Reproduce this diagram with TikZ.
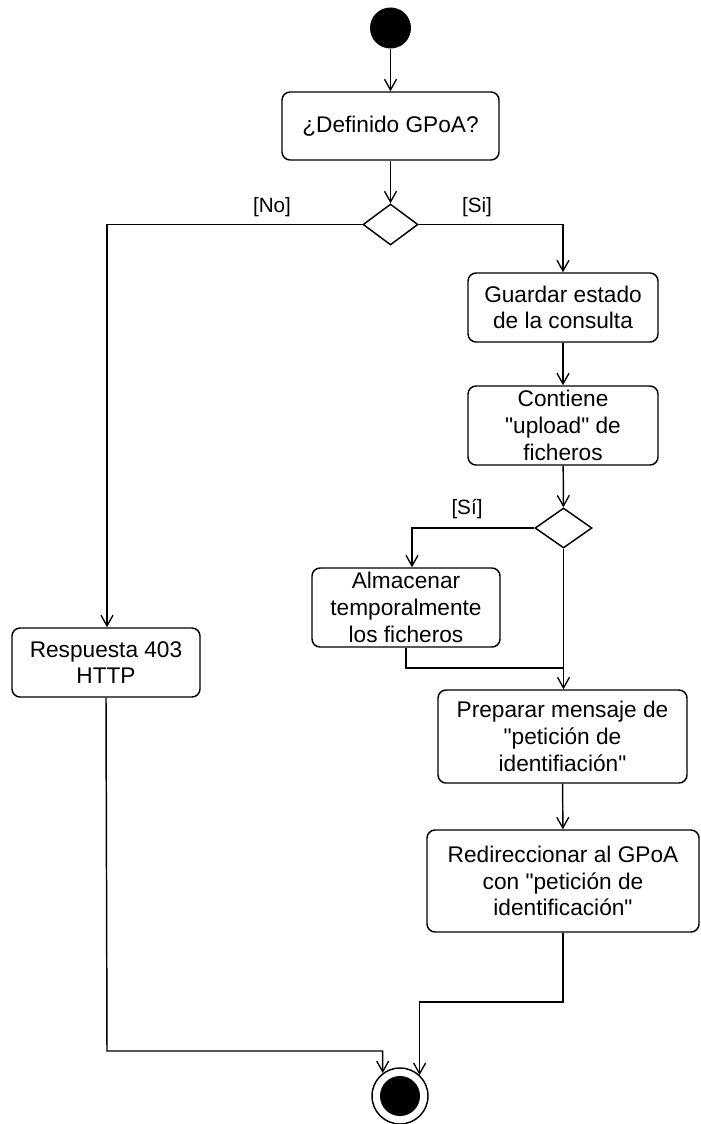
\documentclass[tikz,border=0pt]{standalone}
\usepackage{fontspec}
\setmainfont{Liberation Sans}[Ligatures=TeXOff]
\usetikzlibrary{arrows.meta,shapes.geometric}

% straight double quote
\newcommand{\sq}{{\char34}}

\tikzset{
  every picture/.style={x=0.75pt,y=-0.75pt},
  line/.style={draw=black,line width=1.1pt},
  arr/.style={line,-{Straight Barb[length=8pt,width=9pt,line width=1pt]}},
  act/.style={draw=black,line width=1.1pt,rounded corners=6pt,align=center,
    font=\fontsize{17}{20}\selectfont,inner sep=0pt},
  decision/.style={diamond,draw=black,line width=1.1pt,inner sep=0pt},
  guard/.style={font=\fontsize{15.5}{18}\selectfont,inner sep=0pt},
}

\begin{document}
\begin{tikzpicture}
\useasboundingbox (0,0) rectangle (700,1124);

% initial and final states
\node[circle,fill=black,minimum size=30.75pt,inner sep=0pt] (start) at (390.5,28) {};
\node[circle,draw=black,line width=1.1pt,minimum size=42pt,inner sep=0pt] (end) at (400,1096) {};
\fill[black] (end.center) circle (15pt);

% activities
\node[act,minimum width=162.75pt,minimum height=51pt] (def) at (390.5,126) {¿Definido GPoA?};
\node[act,minimum width=142.5pt,minimum height=51.75pt] (save) at (563,307.5) {Guardar estado\\de la consulta};
\node[act,minimum width=142.5pt,minimum height=59.25pt] (upl) at (563,425.5) {Contiene\\\sq upload\sq{} de\\ficheros};
\node[act,minimum width=141pt,minimum height=59.25pt] (store) at (406,607.5) {Almacenar\\temporalmente\\los ficheros};
\node[act,minimum width=141pt,minimum height=51.75pt] (resp) at (106,662.5) {Respuesta 403\\HTTP};
\node[act,minimum width=186.75pt,minimum height=69.75pt] (prep) at (562.5,736.5) {Preparar mensaje de\\\sq petición de\\identifiación\sq};
\node[act,minimum width=204pt,minimum height=76.5pt] (redir) at (563,881) {Redireccionar al GPoA\\con \sq petición de\\identificación\sq};

% decisions
\node[decision,minimum width=41.25pt,minimum height=30.75pt] (d1) at (390.5,224.5) {};
\node[decision,minimum width=42.75pt,minimum height=30pt] (d2) at (563.5,528) {};

% guard labels
\node[guard] (lno) at (272,207) {[No]};
\node[guard] (lsi) at (477,207) {[Si]};
\node[guard] (lsi2) at (467,509) {[Sí]};

% bend points
\coordinate (join) at (563,668);
\coordinate (lbend) at (107,1051);
\coordinate (rbend) at (563,1002);

% flows
\draw[arr] (start) -- (def);
\draw[arr] (def) -- (d1);
\draw[arr] (d1.west) -| ([xshift=0.75pt]resp.north);
\draw[arr] (d1.east) -| (save.north);
\draw[arr] (save) -- (upl);
\draw[arr] (upl) -- (d2);
\draw[arr] (d2.west) -| ([xshift=4.5pt]store.north);
\draw[arr] (d2.south) -- (d2.south |- prep.north);
\draw[line] (store.south) |- (join);
\draw[arr] (prep) -- (redir);
\draw[arr] (resp.south) -- (lbend) -| (end.127);
\draw[arr] (redir.south) -- (rbend) -| (end.47);
\end{tikzpicture}
\end{document}
